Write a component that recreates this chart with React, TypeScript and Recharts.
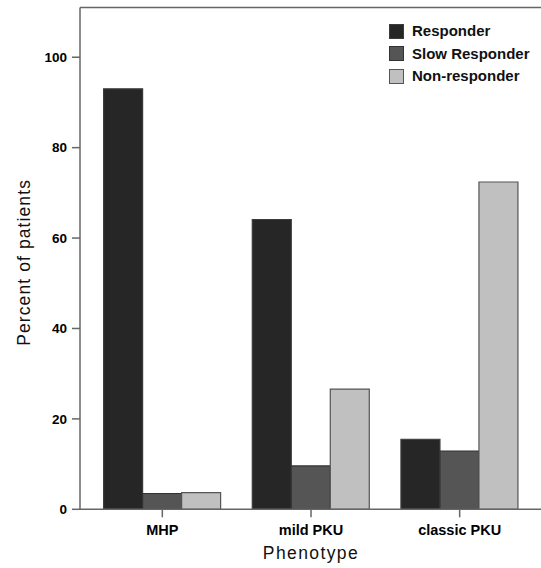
import React from 'react';
import { BarChart, Bar, XAxis, YAxis, ReferenceLine } from 'recharts';

const categories = ['MHP', 'mild PKU', 'classic PKU'];
const responder = [93.0, 64.1, 15.5];
const slowResponder = [3.5, 9.6, 12.9];
const nonResponder = [3.7, 26.6, 72.4];
const yTicks = [0, 20, 40, 60, 80, 100];
const seriesNames = ['Responder', 'Slow Responder', 'Non-responder'];
const seriesKeys = ['r', 's', 'n'];
const seriesFills = ['#262626', '#555555', '#c0c0c0'];
const seriesStrokes = ['#3c3c3c', '#333333', '#555555'];

const data = categories.map((c, i) => ({
  name: c,
  r: responder[i],
  s: slowResponder[i],
  n: nonResponder[i],
}));

const FONT = '"Liberation Sans", Arial, Helvetica, sans-serif';

const YLabel = (props: any) => {
  const vb = props.viewBox || { x: 0, y: 0, width: 0, height: 0 };
  const cx = 24.5;
  const cy = vb.y + vb.height / 2 + 4;
  return (
    <text
      x={cx}
      y={cy}
      transform={`rotate(-90, ${cx}, ${cy})`}
      textAnchor="middle"
      dominantBaseline="central"
      fontSize={17.5}
      letterSpacing={1.1}
      fill="#111"
      fontFamily={FONT}
    >
      Percent of patients
    </text>
  );
};

const XLabel = (props: any) => {
  const vb = props.viewBox || { x: 0, y: 0, width: 0, height: 0 };
  const cx = vb.x + vb.width / 2;
  return (
    <text
      x={cx}
      y={558.5}
      textAnchor="middle"
      fontSize={17.5}
      letterSpacing={1.4}
      fill="#111"
      fontFamily={FONT}
    >
      Phenotype
    </text>
  );
};

export default function App() {
  return (
    <div style={{ position: 'absolute', left: 0, top: 0, width: 541, height: 568, overflow: 'hidden', background: '#fff', fontFamily: FONT }}>
      <BarChart
        width={545}
        height={568}
        data={data}
        margin={{ top: 7.5, right: 3, left: 0, bottom: 28.7 }}
        barCategoryGap="10.5%"
        barGap={0}
      >
        <XAxis
          dataKey="name"
          padding={{ left: 8, right: 8 }}
          height={30}
          tickSize={8}
          tickMargin={7}
          stroke="#666"
          strokeWidth={1.5}
          tick={{ fill: '#000', fontSize: 14.5, fontWeight: 'bold', fontFamily: FONT }}
          label={{ content: XLabel }}
        />
        <YAxis
          width={80}
          domain={[0, 111]}
          ticks={yTicks}
          tickSize={8}
          tickMargin={5}
          stroke="#666"
          strokeWidth={1.5}
          tick={{ fill: '#000', fontSize: 13.5, fontWeight: 'bold', fontFamily: FONT }}
          label={{ content: YLabel }}
        />
        <ReferenceLine y={111} stroke="#666" strokeWidth={1.5} />
        {seriesKeys.map((k, i) => (
          <Bar
            key={k}
            dataKey={k}
            name={seriesNames[i]}
            fill={seriesFills[i]}
            stroke={seriesStrokes[i]}
            strokeWidth={1.2}
            isAnimationActive={false}
          />
        ))}
      </BarChart>
      <div style={{ position: 'absolute', left: 389, top: 20, lineHeight: '22.5px' }}>
        {seriesNames.map((n, i) => (
          <div key={n} style={{ display: 'flex', alignItems: 'center', height: 22.5 }}>
            <span
              style={{
                display: 'inline-block',
                width: 13,
                height: 13,
                background: seriesFills[i],
                border: `1px solid ${seriesStrokes[i]}`,
                marginRight: 8,
              }}
            />
            <span style={{ fontSize: 15, fontWeight: 'bold', color: '#111' }}>{n}</span>
          </div>
        ))}
      </div>
    </div>
  );
}
